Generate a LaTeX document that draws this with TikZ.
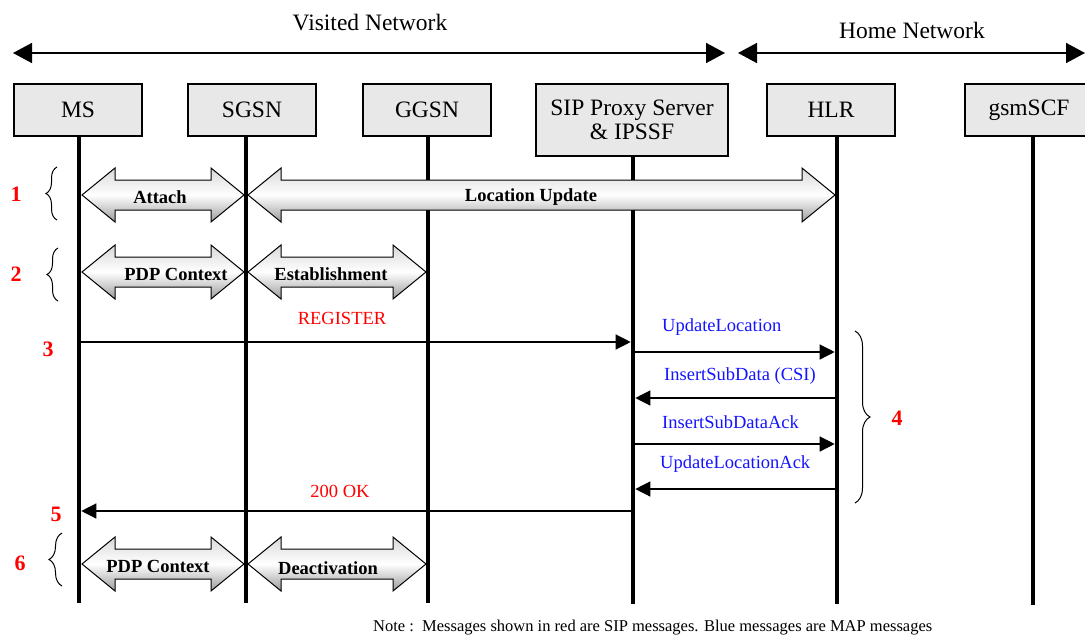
\documentclass[tikz,border=0pt]{standalone}
\usepackage{fontspec}
\setmainfont{Liberation Serif}
\usetikzlibrary{arrows.meta,decorations.pathreplacing,calc}
\definecolor{boxgray}{HTML}{E8E8E8}
\definecolor{msgblue}{HTML}{1414FF}
\definecolor{msgred}{HTML}{FF0000}
\newcommand\blkarrow[3]{%
  \draw[blk] (#1,#3) -- (#1+33,#3-27) -- (#1+33,#3-15) -- (#2-33,#3-15) -- (#2-33,#3-27) -- (#2,#3)
    -- (#2-33,#3+27) -- (#2-33,#3+15) -- (#1+33,#3+15) -- (#1+33,#3+27) -- cycle;}
\begin{document}
\begin{tikzpicture}[x=1pt,y=-1pt,
  ent/.style={draw=black, line width=1.2pt, fill=boxgray, minimum width=128pt, minimum height=52pt,
    inner sep=0pt, font=\fontsize{23.5}{24}\selectfont, align=center},
  life/.style={line width=4.5pt},
  net/.style={line width=1.6pt, {Triangle[length=19pt,width=20pt]}-{Triangle[length=19pt,width=20pt]}},
  msg/.style={line width=1.3pt, -{Triangle[length=15pt,width=15pt]}, shorten >=2.3pt, shorten <=2.3pt},
  blk/.style={draw=black, line width=1pt, top color=gray!30, bottom color=gray!78, middle color=white},
  blbl/.style={font=\fontsize{18.5}{20}\selectfont\bfseries, inner sep=0pt},
  num/.style={text=msgred, font=\fontsize{22}{24}\selectfont\bfseries, inner sep=0pt},
  brc/.style={decorate, decoration={brace, amplitude=#1}, line width=1pt},
  brc/.default=11pt,
  siplbl/.style={text=msgred, font=\fontsize{18.5}{20}\selectfont, inner sep=0pt},
  maplbl/.style={text=msgblue, font=\fontsize{18.5}{20}\selectfont, inner sep=0pt, anchor=west},
  hdr/.style={font=\fontsize{23.5}{26}\selectfont, inner sep=0pt}
]
\useasboundingbox (0,0) rectangle (1085,635);
\clip (0,0) rectangle (1085,635);

% network headers
\node[hdr] (vn) at (370,23) {Visited Network};
\node[hdr] (hn) at (912,30) {Home Network};
\coordinate (vL) at (13,53);
\coordinate (vR) at (725,53);
\coordinate (hL) at (738,53);
\coordinate (hR) at (1085,53);
\draw[net] (vL) -- (vR);
\draw[net] (hL) -- (hR);

% entities
\node[ent] (ms) at (78,110) {MS};
\node[ent] (sgsn) at (252,110) {SGSN};
\node[ent] (ggsn) at (427,110) {GGSN};
\node[ent, minimum width=192pt, minimum height=72pt] (sip) at (632,120) {SIP Proxy Server\\\& IPSSF};
\node[ent] (hlr) at (831,110) {HLR};
\node[ent] (scf) at (1029,110) {gsmSCF};

% lifelines
\coordinate (msT) at (79,136);   \coordinate (msB) at (79,603);
\coordinate (sgT) at (246,136);  \coordinate (sgB) at (246,603);
\coordinate (ggT) at (428,136);  \coordinate (ggB) at (428,603);
\coordinate (spT) at (633,156);  \coordinate (spB) at (633,604);
\coordinate (hlT) at (837,136);  \coordinate (hlB) at (837,604);
\coordinate (scT) at (1033,136); \coordinate (scB) at (1033,605);
\foreach \a/\b in {msT/msB, sgT/sgB, ggT/ggB, spT/spB, hlT/hlB, scT/scB}
  \draw[life] (\a) -- (\b);

% block arrows
\blkarrow{82}{244}{195}
\blkarrow{248}{835}{195}
\blkarrow{82}{244}{272}
\blkarrow{248}{426}{272}
\blkarrow{82}{244}{564}
\blkarrow{248}{426}{564}
\node[blbl] (a1) at (160,197) {Attach};
\node[blbl] (a2) at (531,197) {Location Update};
\node[blbl] (a3) at (176,274) {PDP Context};
\node[blbl] (a4) at (331,274) {Establishment};
\node[blbl] (a5) at (158,566) {PDP Context};
\node[blbl] (a6) at (328,568) {Deactivation};

% step numbers and braces
\node[num] (n1) at (16,194) {1};
\node[num] (n2) at (16,274) {2};
\node[num] (n3) at (48,349) {3};
\node[num] (n4) at (897,418) {4};
\node[num] (n5) at (56,514) {5};
\node[num] (n6) at (20,563) {6};
\coordinate (b1a) at (57,220); \coordinate (b1b) at (57,167);
\coordinate (b2a) at (58,301); \coordinate (b2b) at (58,248);
\coordinate (b6a) at (62,586); \coordinate (b6b) at (62,533);
\coordinate (b4a) at (855,331); \coordinate (b4b) at (855,503);
\draw[brc] (b1a) -- (b1b);
\draw[brc] (b2a) -- (b2b);
\draw[brc=13pt] (b6a) -- (b6b);
\draw[brc=15pt] (b4a) -- (b4b);

% messages
\draw[msg] (msT |- 0,342) -- (spT |- 0,342);
\node[siplbl] (register) at (342,318) {REGISTER};
\draw[msg] (spT |- 0,352) -- (hlT |- 0,352);
\node[maplbl] (m1) at (662,327) {UpdateLocation};
\draw[msg] (hlT |- 0,398) -- (spT |- 0,398);
\node[maplbl] (m2) at (664,376) {InsertSubData (CSI)};
\draw[msg] (spT |- 0,444) -- (hlT |- 0,444);
\node[maplbl] (m3) at (662,422) {InsertSubDataAck};
\draw[msg] (hlT |- 0,489) -- (spT |- 0,489);
\node[maplbl] (m4) at (660,464) {UpdateLocationAck};
\draw[msg] (spT |- 0,511) -- (msT |- 0,511);
\node[siplbl] (ok) at (340,491) {200 OK};

% note
\node[anchor=west, inner sep=0pt, font=\fontsize{16.5}{18}\selectfont] (note) at (373,628)
  {Note :\ \ Messages shown in red are SIP messages. Blue messages are MAP messages};
\end{tikzpicture}
\end{document}
